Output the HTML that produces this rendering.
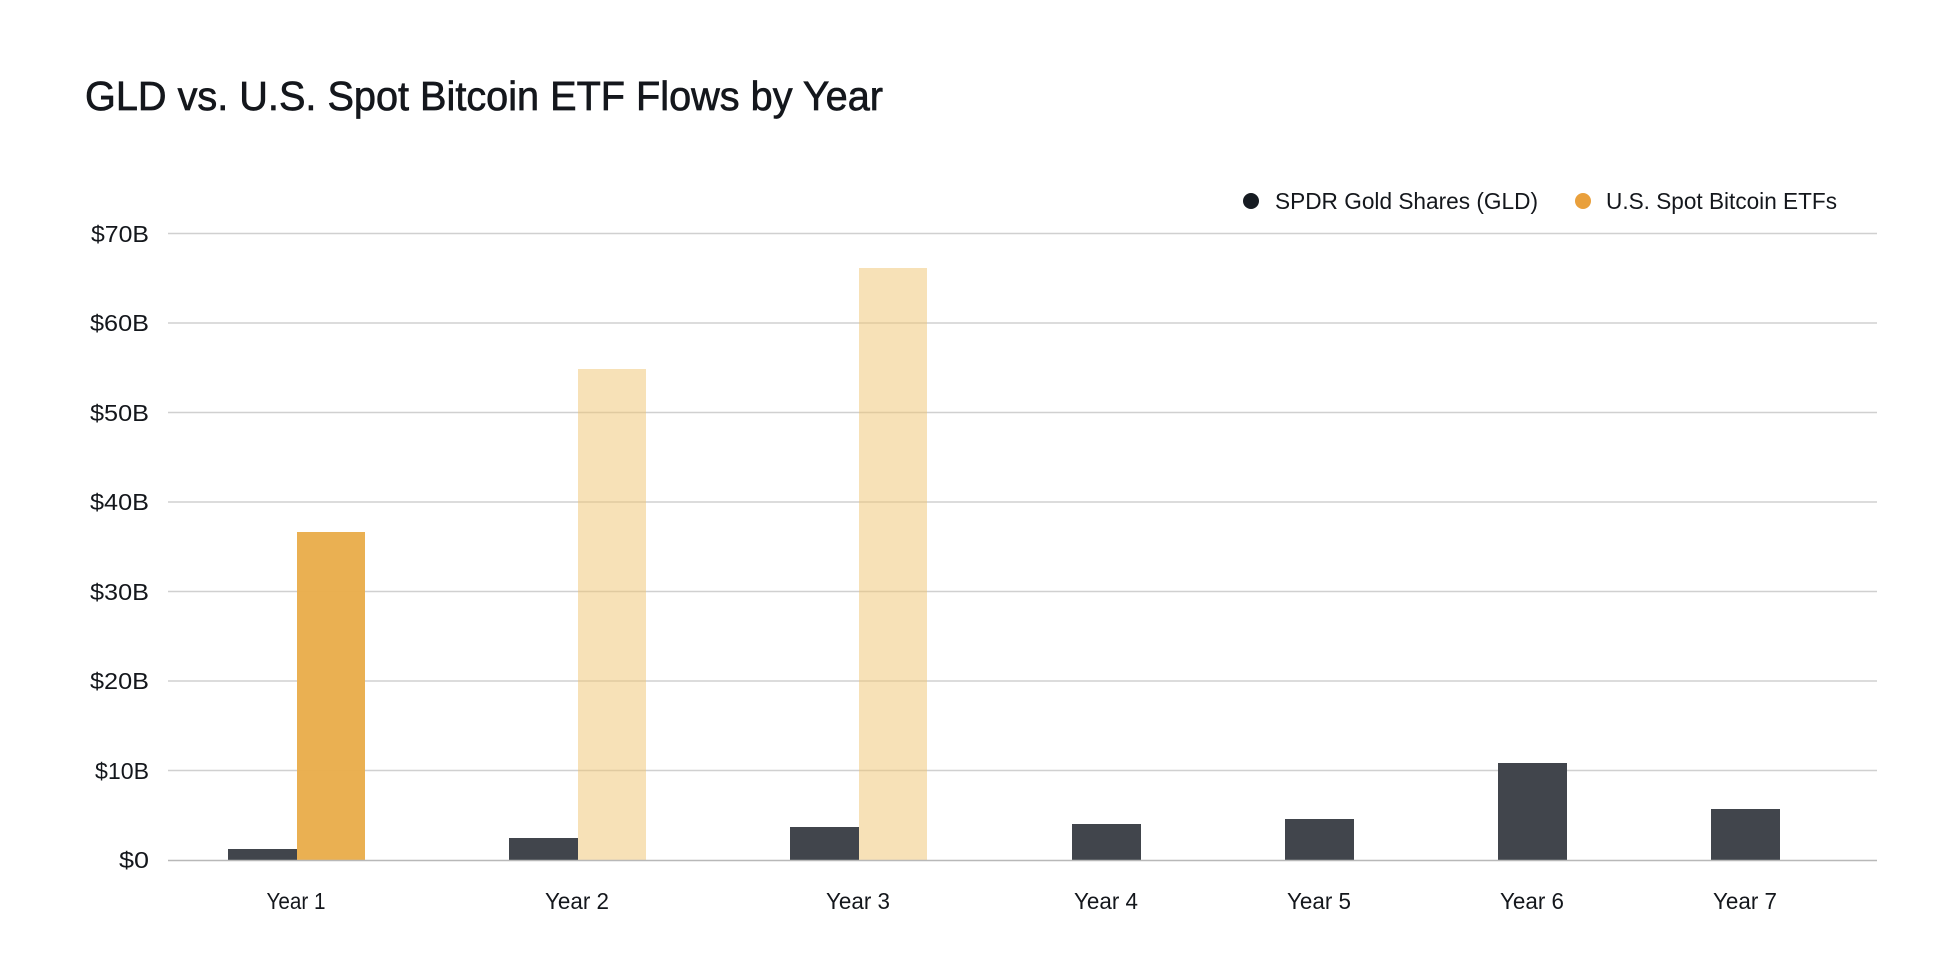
<!DOCTYPE html>
<html><head><meta charset="utf-8"><style>html,body{margin:0;padding:0;background:#fff}svg{display:block}</style></head>
<body>
<svg width="1950" height="962" viewBox="0 0 1950 962" xmlns="http://www.w3.org/2000/svg" font-family="Liberation Sans, sans-serif" fill="#14171c">
<text x="85" y="110" font-size="41" textLength="798" lengthAdjust="spacingAndGlyphs" stroke="#14171c" stroke-width="0.7">GLD vs. U.S. Spot Bitcoin ETF Flows by Year</text>
<circle cx="1251" cy="201" r="8" fill="#161b22"/>
<text x="1275" y="209" font-size="23" textLength="263" lengthAdjust="spacingAndGlyphs">SPDR Gold Shares (GLD)</text>
<circle cx="1583" cy="201" r="8" fill="#e9a03c"/>
<text x="1606" y="209" font-size="23" textLength="231" lengthAdjust="spacingAndGlyphs">U.S. Spot Bitcoin ETFs</text>
<g stroke="#d0d0d0" stroke-width="1.5">
<line x1="168" x2="1877" y1="233.5" y2="233.5"/>
<line x1="168" x2="1877" y1="323" y2="323"/>
<line x1="168" x2="1877" y1="412.5" y2="412.5"/>
<line x1="168" x2="1877" y1="502" y2="502"/>
<line x1="168" x2="1877" y1="591.5" y2="591.5"/>
<line x1="168" x2="1877" y1="681" y2="681"/>
<line x1="168" x2="1877" y1="770.5" y2="770.5"/>
</g>
<g font-size="23" text-anchor="end">
<text x="149" y="242" textLength="58" lengthAdjust="spacingAndGlyphs">$70B</text>
<text x="149" y="331" textLength="59" lengthAdjust="spacingAndGlyphs">$60B</text>
<text x="149" y="421" textLength="59" lengthAdjust="spacingAndGlyphs">$50B</text>
<text x="149" y="510" textLength="59" lengthAdjust="spacingAndGlyphs">$40B</text>
<text x="149" y="600" textLength="59" lengthAdjust="spacingAndGlyphs">$30B</text>
<text x="149" y="689" textLength="59" lengthAdjust="spacingAndGlyphs">$20B</text>
<text x="149" y="779" textLength="54" lengthAdjust="spacingAndGlyphs">$10B</text>
<text x="149" y="868" textLength="30" lengthAdjust="spacingAndGlyphs">$0</text>
</g>
<g fill="#41454c">
<rect x="228" y="849" width="69" height="11"/>
<rect x="509" y="838" width="69" height="22"/>
<rect x="790" y="827" width="69" height="33"/>
<rect x="1072" y="824" width="69" height="36"/>
<rect x="1285" y="819" width="69" height="41"/>
<rect x="1498" y="763" width="69" height="97"/>
<rect x="1711" y="809" width="69" height="51"/>
</g>
<rect x="297" y="532" width="68" height="328" fill="#e9ad4c" opacity="0.97"/>
<rect x="578" y="369" width="68" height="491" fill="#f0c46f" opacity="0.5"/>
<rect x="859" y="268" width="68" height="592" fill="#f0c46f" opacity="0.5"/>
<line x1="168" x2="1877" y1="860.5" y2="860.5" stroke="#b8b8b8" stroke-width="1.5"/>
<g font-size="23" text-anchor="middle">
<text x="296" y="909" textLength="59" lengthAdjust="spacingAndGlyphs">Year 1</text>
<text x="577" y="909" textLength="64" lengthAdjust="spacingAndGlyphs">Year 2</text>
<text x="858" y="909" textLength="64" lengthAdjust="spacingAndGlyphs">Year 3</text>
<text x="1106" y="909" textLength="64" lengthAdjust="spacingAndGlyphs">Year 4</text>
<text x="1319" y="909" textLength="64" lengthAdjust="spacingAndGlyphs">Year 5</text>
<text x="1532" y="909" textLength="64" lengthAdjust="spacingAndGlyphs">Year 6</text>
<text x="1745" y="909" textLength="64" lengthAdjust="spacingAndGlyphs">Year 7</text>
</g>
</svg>
</body></html>
